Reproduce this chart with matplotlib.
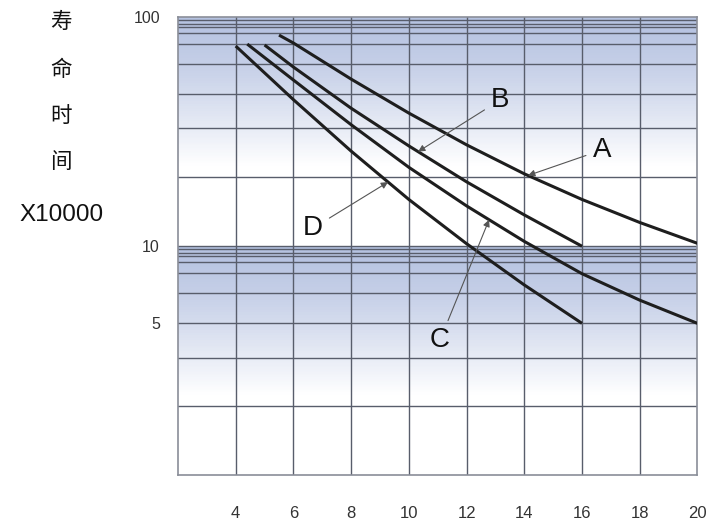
import matplotlib
matplotlib.use("Agg")
import matplotlib.pyplot as plt
from matplotlib.ticker import NullLocator
import numpy as np

# life curves (x axis value, life x10000)
x_a = [5.5, 6, 8, 10, 12, 14, 16, 18, 20]
y_a = [83.4, 77.0, 53.6, 38.1, 27.7, 20.7, 16.0, 12.7, 10.3]
x_b = [5.0, 6, 8, 10, 12, 14, 16]
y_b = [75.5, 60.5, 40.0, 27.4, 19.1, 13.7, 10.0]
x_c = [4.4, 6, 8, 10, 12, 14, 16, 18, 20]
y_c = [76.2, 53.1, 33.9, 22.1, 15.0, 10.5, 7.59, 5.82, 4.61]
x_d = [4.0, 6, 8, 10, 12, 14, 16]
y_d = [74.7, 43.6, 26.0, 16.0, 10.26, 6.78, 4.61]

x_ticks = [4, 6, 8, 10, 12, 14, 16, 18, 20]
y_tick_vals = [100, 10, 4.61]
y_tick_labels = ["100", "10", "5"]
# horizontal grid lines inside each decade (mantissa)
grid_marks = [2.0, 3.27, 4.61, 6.23, 7.62, 8.51, 9.04, 9.32, 9.7]
ylabel_lines = ["寿", "命", "时", "间", "X10000"]

fig = plt.figure(figsize=(7.28, 5.22), dpi=100)
ax = fig.add_axes([0.2445, 0.0891, 0.7135, 0.8783])
ax.set_yscale("log")
ax.set_xlim(2, 20)
ax.set_ylim(1, 100)

# blue gradient at the top of each decade
top_col = np.array([0.71, 0.76, 0.88])
n = 90
for lo in [1, 10]:
    edges = np.logspace(np.log10(lo * 10), np.log10(lo), n + 1)
    for i in range(n):
        f = min((i / n) / 0.64, 1.0) ** 1.3
        c = top_col * (1 - f) + f
        ax.axhspan(edges[i + 1], edges[i], color=c, lw=0.6, zorder=0)

grid_col = "#585d6b"
for lo in [1, 10]:
    for m in grid_marks:
        ax.axhline(lo * m, color=grid_col, lw=1.0, zorder=1)
ax.axhline(10, color=grid_col, lw=1.0, zorder=1)
for xv in x_ticks[:-1]:
    ax.axvline(xv, color=grid_col, lw=1.0, zorder=1)

curves = [(x_a, y_a), (x_b, y_b), (x_c, y_c), (x_d, y_d)]
for xs, ys in curves:
    ax.plot(xs, ys, color="#1e1e1e", lw=2.2, solid_capstyle="butt",
            solid_joinstyle="round", zorder=3)


def on_curve(xs, ys, x):
    return 10 ** np.interp(x, xs, np.log10(ys))


notes = [("A", x_a, y_a, 14.13, (16.69, 26.3)),
         ("B", x_b, y_b, 10.32, (13.16, 43.4)),
         ("C", x_c, y_c, 12.78, (11.08, 3.89)),
         ("D", x_d, y_d, 9.28, (6.68, 12.0))]
for name, xs, ys, tx, pos in notes:
    ax.annotate(name, xy=(tx, on_curve(xs, ys, tx)), xytext=pos,
                ha="center", va="center", fontsize=20,
                family="Liberation Sans", color="#111111", zorder=4,
                arrowprops=dict(arrowstyle="-|>", color="#555555", lw=0.8,
                                shrinkA=3, shrinkB=0, mutation_scale=10))

ax.yaxis.set_minor_locator(NullLocator())
ax.set_yticks(y_tick_vals)
ax.set_yticklabels(y_tick_labels)
ax.set_xticks(x_ticks)
ax.set_xticklabels([str(v) for v in x_ticks])
ax.tick_params(axis="both", length=0, colors="#333333")
ax.tick_params(axis="y", pad=13, labelsize=11.5)
ax.tick_params(axis="x", pad=22, labelsize=12)
for lab in ax.get_xticklabels() + ax.get_yticklabels():
    lab.set_family("Liberation Sans")

for sp in ax.spines.values():
    sp.set_color("#8a8e98")
    sp.set_linewidth(1.2)

ylab_y = [22, 70, 116, 162, 215]
for txt, yy in zip(ylabel_lines, ylab_y):
    size = 17.5 if txt.startswith("X") else 15.5
    fig.text(0.084, 1 - yy / 522, txt, ha="center", va="center",
             fontsize=size, family=["Liberation Sans", "Noto Sans CJK SC"],
             color="#111111")

fig.savefig("out.png", dpi=100)
